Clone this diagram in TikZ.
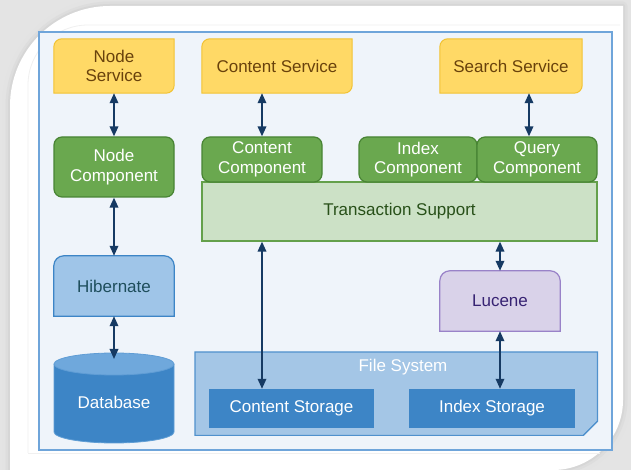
\documentclass[tikz,border=0pt]{standalone}
\usepackage{fontspec}
\setmainfont{Liberation Sans}
\usetikzlibrary{arrows.meta,calc}
\pgfdeclarelayer{back}\pgfdeclarelayer{mid}
\pgfsetlayers{back,mid,main}
\definecolor{shadowgray}{RGB}{228,228,228}
\definecolor{framefill}{RGB}{239,244,250}
\definecolor{frameline}{RGB}{111,165,218}
\definecolor{svcfill}{RGB}{255,217,102}
\definecolor{svcline}{RGB}{241,194,50}
\definecolor{svctext}{RGB}{105,66,12}
\definecolor{cmpfill}{RGB}{106,168,79}
\definecolor{cmpline}{RGB}{72,132,52}
\definecolor{txfill}{RGB}{204,225,198}
\definecolor{txline}{RGB}{100,160,75}
\definecolor{txtext}{RGB}{40,80,25}
\definecolor{hbfill}{RGB}{159,197,232}
\definecolor{hbline}{RGB}{61,133,198}
\definecolor{hbtext}{RGB}{30,78,92}
\definecolor{stfill}{RGB}{61,133,198}
\definecolor{dbtop}{RGB}{111,168,220}
\definecolor{fsfill}{RGB}{164,198,230}
\definecolor{fsline}{RGB}{80,145,205}
\definecolor{lufill}{RGB}{217,210,233}
\definecolor{luline}{RGB}{153,130,200}
\definecolor{lutext}{RGB}{55,35,115}
\definecolor{arrowc}{RGB}{22,58,99}
\newcommand\ShapeTLBR[3]{\path[#2] (#1.south west) -- ($(#1.north west)+(0,-#3)$) arc[start angle=180,end angle=90,radius=#3] -- (#1.north east) -- ($(#1.south east)+(0,#3)$) arc[start angle=0,end angle=-90,radius=#3] -- cycle;}
\newcommand\ShapeTop[3]{\path[#2] (#1.south west) -- ($(#1.north west)+(0,-#3)$) arc[start angle=180,end angle=90,radius=#3] -- ($(#1.north east)+(-#3,0)$) arc[start angle=90,end angle=0,radius=#3] -- (#1.south east) -- cycle;}
\newcommand\CardPath{(10,-20) -- (10,364) arc[start angle=180,end angle=90,radius=100] -- (623,464) -- (623,70) arc[start angle=0,end angle=-90,radius=70] -- (10,0) -- cycle}
\begin{document}
\begin{tikzpicture}[x=1pt,y=1pt,
  lbl/.style={inner sep=0pt, align=center, font=\fontsize{17}{19.5}\selectfont},
  svc/.style={lbl, text=svctext, minimum height=54pt},
  cmp/.style={lbl, text=white, fill=cmpfill, draw=cmpline, line width=1.2pt, rounded corners=8pt},
  stor/.style={lbl, text=white, fill=stfill, minimum height=39pt},
  svcshape/.style={fill=svcfill, draw=svcline, line width=1pt},
  link/.style={arrowc, line width=1.8pt, {Triangle[width=8.5pt,length=10pt]}-{Triangle[width=8.5pt,length=10pt]}}]
\useasboundingbox (0,0) rectangle (631,470);
% background card with soft shadow
\begin{pgfonlayer}{back}
\fill[shadowgray] (0,0) rectangle (631,470);
\draw[gray!22, line width=16pt, line join=round] \CardPath;
\draw[gray!27, line width=9pt, line join=round] \CardPath;
\draw[gray!32, line width=4pt, line join=round] \CardPath;
\fill[white] \CardPath;
\draw[gray!12, line width=0.8pt] (28,17) -- (28,385) arc[start angle=180,end angle=90,radius=60] -- (620,445);
\draw[gray!12, line width=0.8pt] (28,17) -- (600,17);
\fill[framefill] (39,20) rectangle (612,438);
\draw[frameline, line width=1.5pt] (39,20) rectangle (612,438);
\end{pgfonlayer}
% services
\node[svc, minimum width=120pt] (ns) at (114,404) {Node\\Service};
\node[svc, minimum width=150pt] (cs) at (277,404) {Content Service};
\node[svc, minimum width=142pt] (ss) at (511,404) {Search Service};
% transaction support
\node[lbl, text=txtext, fill=txfill, draw=txline, line width=1.2pt, minimum width=395pt, minimum height=59pt] (ts) at (399.5,258.5) {Transaction Support};
% components
\node[cmp, minimum width=120pt, minimum height=60pt] (nc) at (114,303) {Node\\Component};
\node[cmp, minimum width=120pt, minimum height=45pt] (cc) at (262,310.5) {Content\\Component};
\node[cmp, minimum width=118pt, minimum height=45pt] (ic) at (418,310.5) {Index\\Component};
\node[cmp, minimum width=120pt, minimum height=45pt] (qc) at (537,310.5) {Query\\Component};
% hibernate, lucene
\node[lbl, text=hbtext, minimum width=120pt, minimum height=60pt] (hb) at (114,184) {Hibernate};
\node[lbl, text=lutext, minimum width=120pt, minimum height=60pt] (lu) at (500,169) {Lucene};
% file system
\node[lbl, minimum width=402pt, minimum height=83pt, anchor=north west] (fs) at (195,118) {};
\node[lbl, text=white] (fslbl) at (403,103) {File System};
\node[stor, minimum width=165pt] (cst) at (291.5,61.5) {Content Storage};
\node[stor, minimum width=166pt] (ist) at (492,61.5) {Index Storage};
% database
\node[lbl, text=white] (db) at (114,68) {Database};
\coordinate (dbin) at (114,111);
\begin{pgfonlayer}{mid}
\ShapeTLBR{ns}{svcshape}{8}
\ShapeTLBR{cs}{svcshape}{8}
\ShapeTLBR{ss}{svcshape}{8}
\ShapeTop{hb}{fill=hbfill, draw=hbline, line width=1.2pt}{10}
\ShapeTop{lu}{fill=lufill, draw=luline, line width=1.2pt}{10}
\path[fill=fsfill, draw=fsline, line width=1.2pt] (fs.north west) -- (fs.north east) -- ($(fs.south east)+(0,14)$) -- ($(fs.south east)+(-14,0)$) -- (fs.south west) -- cycle;
\path[fill=dbtop, draw=fsline, line width=0.8pt] ($(fs.south east)+(0,14)$) -- ($(fs.south east)+(-11,3)$) -- ($(fs.south east)+(-14,0)$) -- cycle;
\fill[stfill] (54,106) -- (54,38) arc[x radius=60, y radius=11, start angle=180, end angle=360] -- (174,106) -- cycle;
\draw[dbtop!70!stfill, line width=0.8pt] (54,106) -- (54,38) arc[x radius=60, y radius=11, start angle=180, end angle=360] -- (174,106);
\draw[fill=dbtop, draw=dbtop!70!stfill, line width=0.8pt] (114,106) ellipse[x radius=60, y radius=11];
\end{pgfonlayer}
% connectors
\draw[link] (ns.south) -- (nc.north);
\draw[link] (cs.south -| cc.north) -- (cc.north);
\draw[link] ([xshift=-8pt]qc.north |- ss.south) -- ([xshift=-8pt]qc.north);
\draw[link] (nc.south) -- (hb.north);
\draw[link] (hb.south) -- (dbin);
\draw[link] (cc.center |- ts.south) -- (cc.center |- cst.north);
\draw[link] (lu.north |- ts.south) -- (lu.north);
\draw[link] (lu.south) -- (lu.south |- ist.north);
\end{tikzpicture}
\end{document}
